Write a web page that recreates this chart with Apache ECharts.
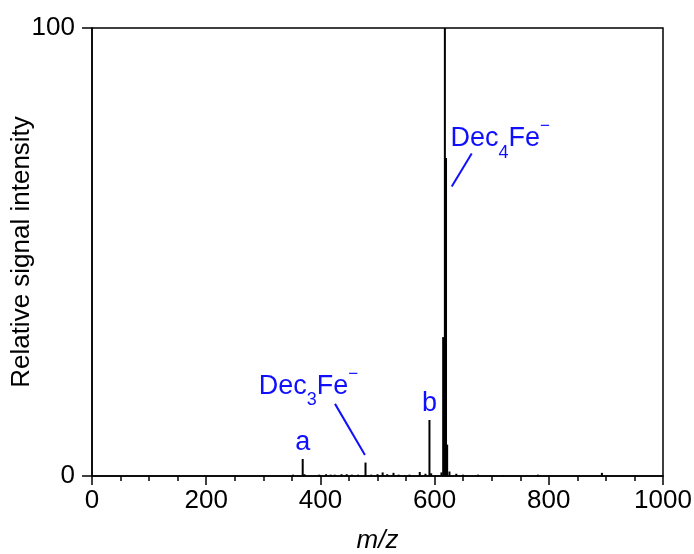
<!DOCTYPE html>
<html>
<head>
<meta charset="utf-8">
<script src="https://cdn.jsdelivr.net/npm/echarts@6/dist/echarts.min.js"></script>
<style>
  html, body { margin: 0; padding: 0; background: #fff; }
  #chart { width: 694px; height: 554px; }
</style>
</head>
<body>
<div id="chart"></div>
<script>
// Peak list of the mass spectrum: m/z and relative intensity (%)
const peakMz = [352, 369, 372, 398, 410, 418, 425, 437, 446, 455, 466, 479, 489, 500, 509, 517, 528, 537, 556, 574, 584, 591, 594, 612, 615, 618, 620, 622, 626, 638, 650, 676, 720, 781, 893];
const peakIntensity = [0.3, 3.8, 0.4, 0.3, 0.4, 0.3, 0.3, 0.4, 0.4, 0.3, 0.3, 3.0, 0.3, 0.4, 0.8, 0.4, 0.7, 0.3, 0.3, 0.9, 0.5, 12.5, 0.6, 0.8, 31, 100, 71, 7, 1.0, 0.5, 0.3, 0.3, 0.2, 0.3, 0.7];

// Axis ranges
const xRange = [0, 1000];
const yRange = [0, 100];

const FONT = '"Liberation Sans", Arial, Helvetica, sans-serif';
const BLUE = '#1010ff';

const chart = echarts.init(document.getElementById('chart'), null, { renderer: 'canvas' });

const axisLineStyle = { color: '#000', width: 1.5 };

chart.setOption({
  animation: false,
  grid: {
    left: 92, right: 31, top: 28, bottom: 78,
    containLabel: false, outerBoundsMode: 'none',
    show: true, borderColor: '#000', borderWidth: 1.5, backgroundColor: 'transparent'
  },
  xAxis: {
    type: 'value', min: xRange[0], max: xRange[1], interval: 200,
    axisLine: { onZero: false, lineStyle: axisLineStyle },
    axisTick: { length: 9, lineStyle: axisLineStyle },
    minorTick: { show: true, splitNumber: 4, length: 5, lineStyle: axisLineStyle },
    splitLine: { show: false },
    minorSplitLine: { show: false },
    axisLabel: { color: '#000', fontSize: 26, fontFamily: FONT, margin: 12, formatter: v => String(v) },
    name: 'm/z', nameLocation: 'middle', nameGap: 52, nameMoveOverlap: false,
    nameTextStyle: { color: '#000', fontSize: 26, fontStyle: 'italic', fontFamily: FONT }
  },
  yAxis: {
    type: 'value', min: yRange[0], max: yRange[1], interval: 100,
    axisLine: { onZero: false, lineStyle: axisLineStyle },
    axisTick: { length: 10, lineStyle: axisLineStyle },
    splitLine: { show: false },
    axisLabel: { color: '#000', fontSize: 26, fontFamily: FONT, margin: 17, formatter: v => String(v) },
    name: 'Relative signal intensity', nameLocation: 'middle', nameGap: 57, nameMoveOverlap: false,
    nameTextStyle: { color: '#000', fontSize: 26, fontFamily: FONT }
  },
  series: [{
    type: 'bar',
    data: peakMz.map((m, i) => [m, peakIntensity[i]]),
    barWidth: 2,
    itemStyle: { color: '#000' },
    silent: true
  }]
});

// Text measuring for the composed ion labels (sub/superscripts)
const measureCtx = document.createElement('canvas').getContext('2d');
function textWidth(str, size) {
  measureCtx.font = size + 'px ' + FONT;
  return measureCtx.measureText(str).width;
}

// Builds a label out of pieces; dy is the baseline shift of each piece
function composedLabel(left, baseline, pieces) {
  const children = [];
  let x = left;
  pieces.forEach(p => {
    children.push({
      type: 'text',
      x: x,
      y: baseline + p.dy - 0.35 * p.size,
      style: {
        text: p.text, fill: BLUE, font: p.size + 'px ' + FONT,
        textAlign: 'left', textVerticalAlign: 'middle', verticalAlign: 'middle'
      },
      silent: true
    });
    x += textWidth(p.text, p.size);
  });
  return { type: 'group', children: children };
}

function ionPieces(sub) {
  return [
    { text: 'Dec', size: 27, dy: 0 },
    { text: sub, size: 18, dy: 11 },
    { text: 'Fe', size: 27, dy: 0 },
    { text: '\u2212', size: 17, dy: -16 }
  ];
}

function px(m, v) {
  return chart.convertToPixel({ gridIndex: 0 }, [m, v]);
}

function leader(from, to) {
  const a = px(from[0], from[1]);
  const b = px(to[0], to[1]);
  return {
    type: 'line',
    shape: { x1: a[0], y1: a[1], x2: b[0], y2: b[1] },
    style: { stroke: BLUE, lineWidth: 2 },
    silent: true
  };
}

function letter(str, m, v) {
  const p = px(m, v);
  return {
    type: 'text', x: p[0], y: p[1] - 0.35 * 27,
    style: { text: str, fill: BLUE, font: '27px ' + FONT, textAlign: 'center', textVerticalAlign: 'middle', verticalAlign: 'middle' },
    silent: true
  };
}

const dec4Pos = px(628, 73.2);
const dec3Pos = px(292, 17.9);

chart.setOption({
  graphic: [
    composedLabel(dec4Pos[0], dec4Pos[1], ionPieces('4')),
    leader([630, 64.6], [665, 72.0]),
    composedLabel(dec3Pos[0], dec3Pos[1], ionPieces('3')),
    leader([425.6, 16.1], [478, 4.7]),
    letter('a', 369, 5.4),
    letter('b', 591, 14.1)
  ]
});
</script>
</body>
</html>
